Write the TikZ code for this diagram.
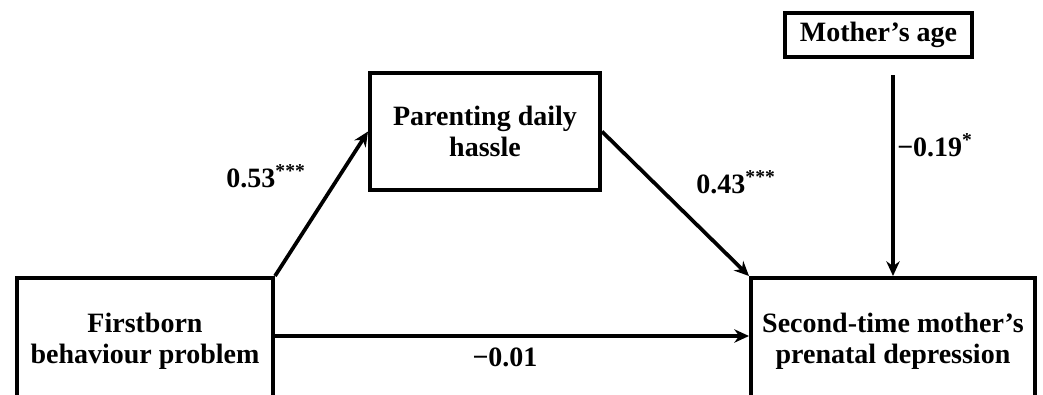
\documentclass[tikz,border=0pt]{standalone}
\usepackage{fontspec}
\setmainfont{Liberation Serif}
\usetikzlibrary{arrows.meta}
\begin{document}
\begin{tikzpicture}[x=0.75pt,y=-0.75pt,
  box/.style={draw=black,line width=3pt,fill=white,align=center,inner sep=0pt,
    font=\fontsize{21}{23}\selectfont\bfseries},
  conn/.style={line width=2.8pt,-{Stealth[length=11pt,width=10pt]}},
  lab/.style={font=\fontsize{21}{23}\selectfont\bfseries,inner sep=0pt}]
\useasboundingbox (0,0) rectangle (1043,394);
\node[box,minimum width=192pt,minimum height=94.5pt] (fb) at (145,341) {Firstborn\\behaviour problem};
\node[box,minimum width=213pt,minimum height=94.5pt] (sd) at (893,341) {Second-time mother's\\prenatal depression};
\node[box,minimum width=172.5pt,minimum height=87.75pt] (ph) at (485,131.5) {Parenting daily\\hassle};
\node[box,minimum width=140pt,minimum height=33pt] (ma) at (878.5,35) {Mother's age};
\coordinate (mafoot) at (893,75);
\draw[conn] (fb.north east) -- (ph.west);
\draw[conn] (ph.east) -- (sd.north west);
\draw[conn] ([yshift=3.75pt]fb.east) -- ([yshift=3.75pt]sd.west);
\draw[conn] (mafoot) -- (sd.north);
\node[lab] (l1) at (266,176) {0.53\textsuperscript{***}};
\node[lab] (l2) at (736,182) {0.43\textsuperscript{***}};
\node[lab,anchor=west] (l3) at (897,145) {\textminus0.19\textsuperscript{*}};
\node[lab] (l4) at (505,357) {\textminus0.01};
\end{tikzpicture}
\end{document}
